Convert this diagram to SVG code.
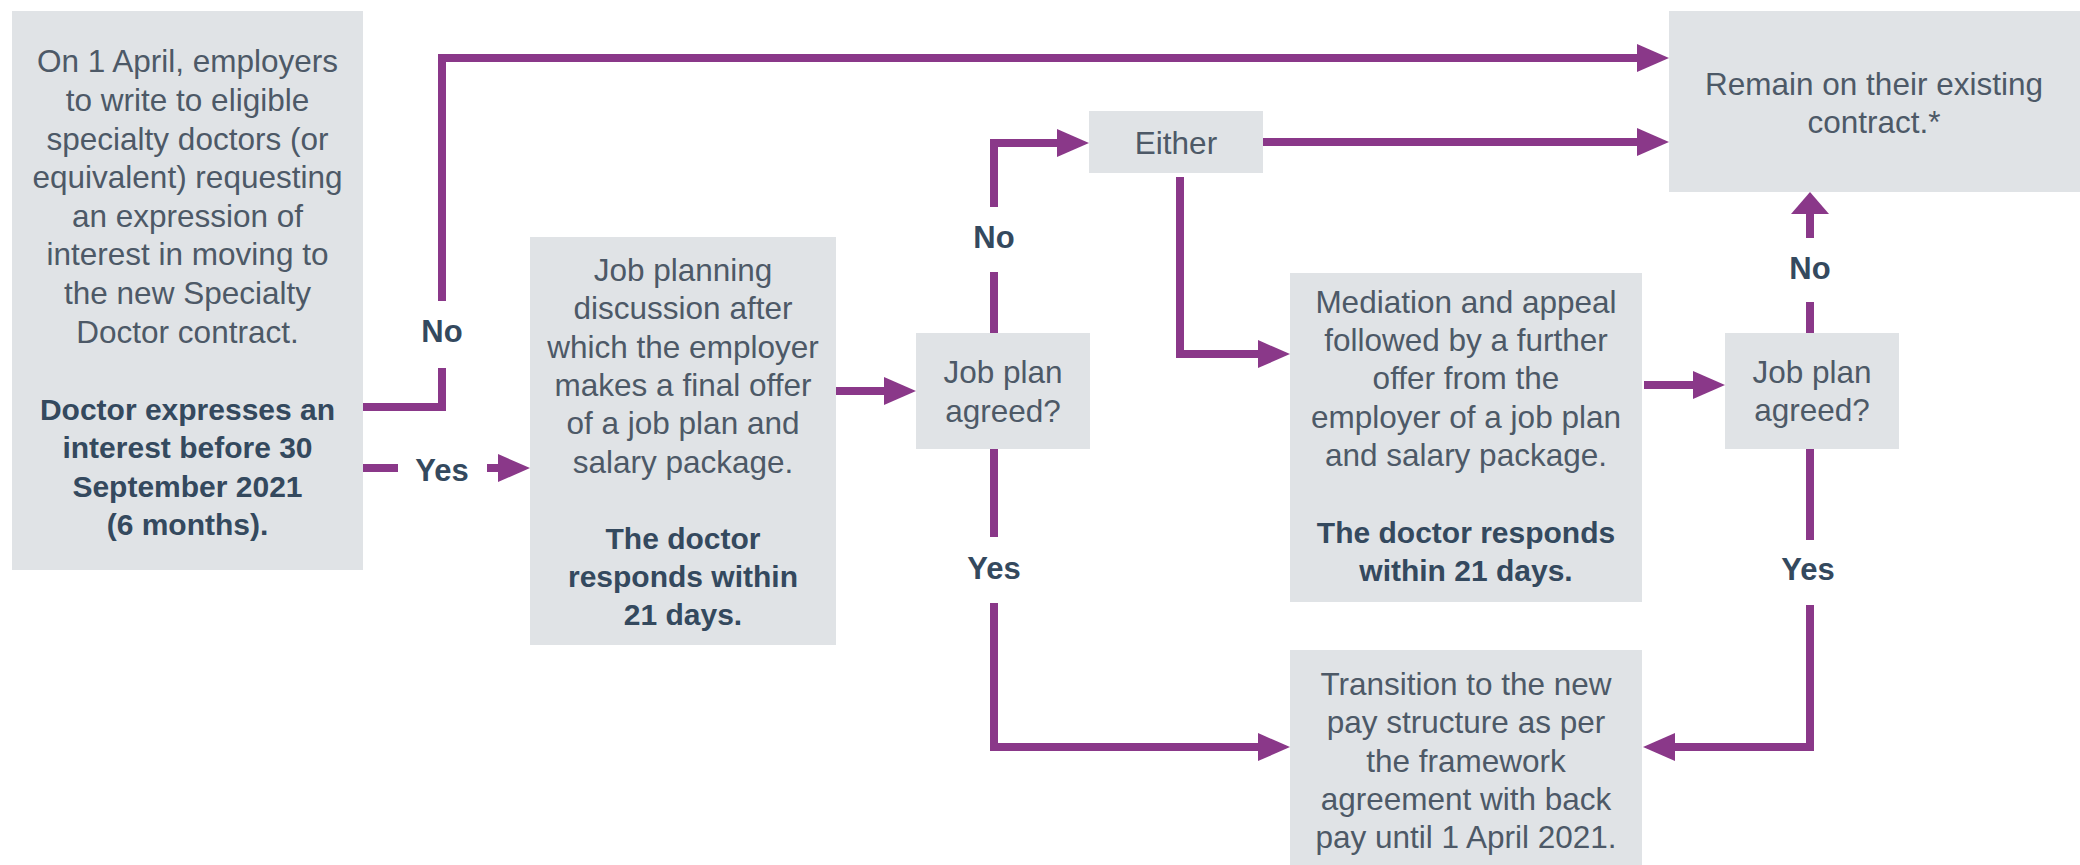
<svg xmlns="http://www.w3.org/2000/svg" width="2080" height="865" viewBox="0 0 2080 865">
<defs>
<style>
.box{fill:#e0e3e6}
.t{font-family:"Liberation Sans",Arial,sans-serif;font-size:31.5px;fill:#4d5967;text-anchor:middle}
.b{font-family:"Liberation Sans",Arial,sans-serif;font-size:30px;font-weight:bold;fill:#34495e;text-anchor:middle}
.lbl{font-family:"Liberation Sans",Arial,sans-serif;font-size:31px;font-weight:bold;fill:#34495e;text-anchor:middle}
.c{fill:none;stroke:#8a3889;stroke-width:8;stroke-linejoin:miter;stroke-linecap:butt}
</style>
<marker id="ah" viewBox="0 0 32 28" refX="1" refY="14" markerWidth="32" markerHeight="28" markerUnits="userSpaceOnUse" orient="auto">
<path d="M0,0 L32,14 L0,28 z" fill="#8a3889"/>
</marker>
<marker id="ahw" viewBox="0 0 22 38" refX="1" refY="19" markerWidth="22" markerHeight="38" markerUnits="userSpaceOnUse" orient="auto">
<path d="M0,0 L22,19 L0,38 z" fill="#8a3889"/>
</marker>
</defs>
<rect width="2080" height="865" fill="#ffffff"/>

<g id="connectors">
<path class="c" d="M363,407 H442 V368"/>
<path class="c" d="M442,301 V58 H1638" marker-end="url(#ah)"/>
<path class="c" d="M363,468 H398"/>
<path class="c" d="M487,468 H499" marker-end="url(#ah)"/>
<path class="c" d="M836,391 H885" marker-end="url(#ah)"/>
<path class="c" d="M994,333 V272"/>
<path class="c" d="M994,207 V143 H1058" marker-end="url(#ah)"/>
<path class="c" d="M1263,142 H1638" marker-end="url(#ah)"/>
<path class="c" d="M1180,177 V354 H1259" marker-end="url(#ah)"/>
<path class="c" d="M994,449 V537"/>
<path class="c" d="M994,603 V747 H1259" marker-end="url(#ah)"/>
<path class="c" d="M1644,385 H1694" marker-end="url(#ah)"/>
<path class="c" d="M1810,333 V302"/>
<path class="c" d="M1810,238 V213" marker-end="url(#ahw)"/>
<path class="c" d="M1810,449 V540"/>
<path class="c" d="M1810,605 V747 H1674" marker-end="url(#ah)"/>
<text class="lbl" x="442" y="342">No</text>
<text class="lbl" x="442" y="481">Yes</text>
<text class="lbl" x="994" y="248">No</text>
<text class="lbl" x="994" y="579">Yes</text>
<text class="lbl" x="1810" y="279">No</text>
<text class="lbl" x="1808" y="580">Yes</text>
</g>

<g id="start">
<rect class="box" x="12" y="11" width="351" height="559"/>
<text class="t" x="187.5" y="72">On 1 April, employers</text>
<text class="t" x="187.5" y="111">to write to eligible</text>
<text class="t" x="187.5" y="150">specialty doctors (or</text>
<text class="t" x="187.5" y="188">equivalent) requesting</text>
<text class="t" x="187.5" y="227">an expression of</text>
<text class="t" x="187.5" y="265">interest in moving to</text>
<text class="t" x="187.5" y="304">the new Specialty</text>
<text class="t" x="187.5" y="343">Doctor contract.</text>
<text class="b" x="187.5" y="420">Doctor expresses an</text>
<text class="b" x="187.5" y="458">interest before 30</text>
<text class="b" x="187.5" y="497">September 2021</text>
<text class="b" x="187.5" y="535">(6 months).</text>
</g>

<g id="jobplanning">
<rect class="box" x="530" y="237" width="306" height="408"/>
<text class="t" x="683" y="281">Job planning</text>
<text class="t" x="683" y="319">discussion after</text>
<text class="t" x="683" y="358">which the employer</text>
<text class="t" x="683" y="396">makes a final offer</text>
<text class="t" x="683" y="434">of a job plan and</text>
<text class="t" x="683" y="473">salary package.</text>
<text class="b" x="683" y="549">The doctor</text>
<text class="b" x="683" y="587">responds within</text>
<text class="b" x="683" y="625">21 days.</text>
</g>

<g id="agreed1">
<rect class="box" x="916" y="333" width="174" height="116"/>
<text class="t" x="1003" y="383">Job plan</text>
<text class="t" x="1003" y="422">agreed?</text>
</g>

<g id="either">
<rect class="box" x="1089" y="111" width="174" height="62"/>
<text class="t" x="1176" y="154">Either</text>
</g>

<g id="remain">
<rect class="box" x="1669" y="11" width="411" height="181"/>
<text class="t" x="1874" y="95">Remain on their existing</text>
<text class="t" x="1874" y="133">contract.*</text>
</g>

<g id="mediation">
<rect class="box" x="1290" y="273" width="352" height="329"/>
<text class="t" x="1466" y="313">Mediation and appeal</text>
<text class="t" x="1466" y="351">followed by a further</text>
<text class="t" x="1466" y="389">offer from the</text>
<text class="t" x="1466" y="428">employer of a job plan</text>
<text class="t" x="1466" y="466">and salary package.</text>
<text class="b" x="1466" y="543">The doctor responds</text>
<text class="b" x="1466" y="581">within 21 days.</text>
</g>

<g id="agreed2">
<rect class="box" x="1725" y="333" width="174" height="116"/>
<text class="t" x="1812" y="383">Job plan</text>
<text class="t" x="1812" y="421">agreed?</text>
</g>

<g id="transition">
<rect class="box" x="1290" y="650" width="352" height="215"/>
<text class="t" x="1466" y="695">Transition to the new</text>
<text class="t" x="1466" y="733">pay structure as per</text>
<text class="t" x="1466" y="772">the framework</text>
<text class="t" x="1466" y="810">agreement with back</text>
<text class="t" x="1466" y="848">pay until 1 April 2021.</text>
</g>
</svg>
